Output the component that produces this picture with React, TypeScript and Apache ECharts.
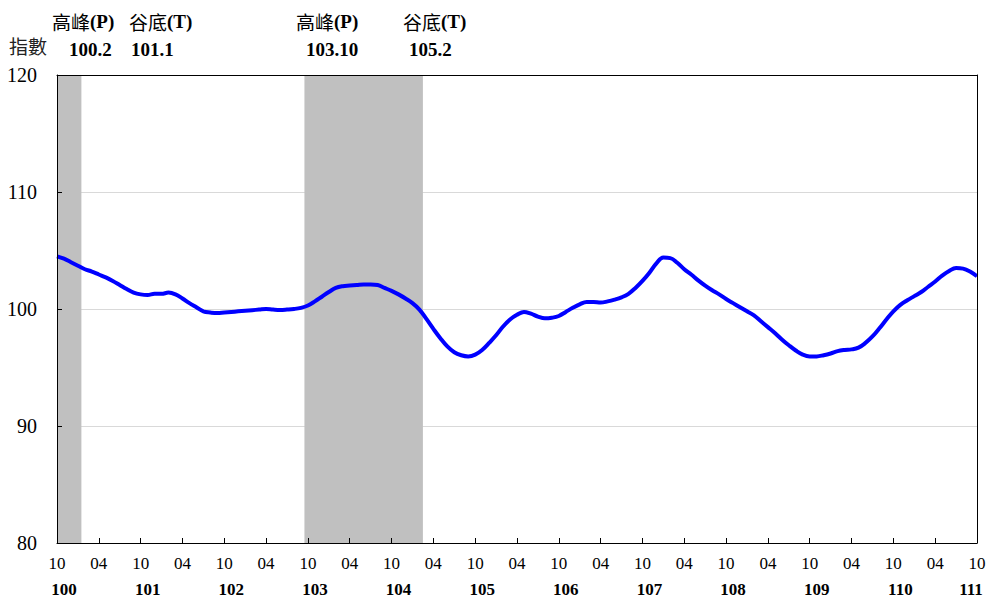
import React, { useEffect, useRef } from "react";
import * as echarts from "echarts";

// Months from 100/10 to 111/10 (ROC calendar)
const startYear = 100;
const startMonth = 10;
const monthCount = 133;

// Composite index values, one per month
const indexValues = [
  104.5, 104.3, 104.0, 103.7, 103.4, 103.2, 102.95, 102.7, 102.4, 102.05,
  101.7, 101.4, 101.25, 101.2, 101.3, 101.3, 101.4, 101.25, 100.9, 100.5,
  100.15, 99.8, 99.7, 99.65, 99.7, 99.75, 99.8, 99.85, 99.9, 99.95,
  100.0, 99.95, 99.92, 99.95, 100.0, 100.1, 100.3, 100.65, 101.05, 101.45,
  101.8, 101.95, 102.0, 102.05, 102.1, 102.1, 102.05, 101.8, 101.55, 101.25,
  100.9, 100.5, 99.95, 99.15, 98.3, 97.5, 96.8, 96.3, 96.05, 95.95,
  96.1, 96.5, 97.1, 97.75, 98.5, 99.1, 99.5, 99.75, 99.6, 99.35,
  99.2, 99.25, 99.4, 99.75, 100.1, 100.4, 100.6, 100.6, 100.55, 100.65,
  100.8, 101.0, 101.3, 101.8, 102.4, 103.1, 103.9, 104.4, 104.35, 103.95,
  103.4, 102.95, 102.45, 102.0, 101.6, 101.25, 100.85, 100.5, 100.15, 99.8,
  99.45, 98.95, 98.45, 97.95, 97.4, 96.9, 96.45, 96.1, 95.95, 95.95,
  96.05, 96.2, 96.4, 96.5, 96.55, 96.7, 97.1, 97.65, 98.35, 99.1,
  99.8, 100.35, 100.75, 101.1, 101.45, 101.9, 102.35, 102.85, 103.25, 103.5,
  103.45, 103.2, 102.8,
];

// Shaded contraction periods (peak -> trough), clipped to the chart range
const shadedPeriods = [
  ["100/10", "101/01"],
  ["103/10", "105/02"],
];

// Peak / trough annotations at the top
const turnLabels = ["高峰(P)", "谷底(T)", "高峰(P)", "谷底(T)"];
const turnDates = ["100.2", "101.1", "103.10", "105.2"];

const yMin = 80;
const yMax = 120;
const yStep = 10;

const categories: string[] = [];
for (let i = 0; i < monthCount; i++) {
  const m0 = startMonth - 1 + i;
  const y = startYear + Math.floor(m0 / 12);
  const m = (m0 % 12) + 1;
  categories.push(`${y}/${String(m).padStart(2, "0")}`);
}

const SERIF = "'Liberation Serif', 'Times New Roman', serif";
const CJK = "'Noto Sans CJK TC', 'Noto Sans CJK SC', sans-serif";

export default function App() {
  const ref = useRef<HTMLDivElement>(null);

  useEffect(() => {
    if (!ref.current) return;
    const chart = echarts.init(ref.current, undefined, { renderer: "svg" });

    const shadeData = shadedPeriods.map(([a, b]) => [
      categories.indexOf(a),
      categories.indexOf(b),
    ]);

    const turnX = [52, 129, 296, 403];
    const dateX = [69, 131, 306, 409];

    const graphics: any[] = [];
    turnLabels.forEach((t, i) => {
      const cjk = t.slice(0, 2);
      const rest = t.slice(2);
      graphics.push({
        type: "text",
        left: turnX[i],
        top: 12,
        style: {
          text: `{c|${cjk}}{e|${rest}}`,
          rich: {
            c: { fontFamily: CJK, fontSize: 19, fill: "#000" },
            e: { fontFamily: SERIF, fontSize: 19, fontWeight: "bold", fill: "#000" },
          },
        },
      });
    });
    turnDates.forEach((t, i) => {
      graphics.push({
        type: "text",
        left: dateX[i],
        top: 40,
        style: { text: t, fontFamily: SERIF, fontSize: 19, fontWeight: "bold", fill: "#000" },
      });
    });
    graphics.push({
      type: "text",
      left: 9,
      top: 36,
      style: { text: "指數", fontFamily: CJK, fontSize: 19, fill: "#222" },
    });

    const lastIdx = categories.length - 1;

    chart.setOption({
      animation: false,
      grid: { left: 57, right: 27, top: 75, bottom: 67, containLabel: false, outerBoundsMode: "none" },
      graphic: graphics,
      xAxis: [
        {
          type: "category",
          data: categories,
          boundaryGap: false,
          position: "bottom",
          z: 5,
          axisLine: { show: true, lineStyle: { color: "#000", width: 1 } },
          axisTick: { show: true, inside: true, length: 5, interval: 5, lineStyle: { color: "#000" } },
          axisLabel: {
            interval: 5,
            margin: 12,
            fontFamily: SERIF,
            fontSize: 17,
            color: "#000",
            formatter: (v: string) => v.split("/")[1],
          },
          splitLine: { show: false },
        },
        {
          type: "category",
          data: categories,
          boundaryGap: false,
          position: "bottom",
          offset: 28,
          axisLine: { show: false },
          axisTick: { show: false },
          axisLabel: {
            interval: (idx: number) => idx % 12 === 0,
            margin: 10,
            formatter: (v: string, idx: number) =>
              idx === lastIdx ? `{l|${v.split("/")[0]}}` : `{y|${v.split("/")[0]}}`,
            rich: {
              y: { fontFamily: SERIF, fontSize: 17, fontWeight: "bold", color: "#000", padding: [0, 0, 0, 14] },
              l: { fontFamily: SERIF, fontSize: 17, fontWeight: "bold", color: "#000", padding: [0, 12, 0, 0] },
            },
          },
          splitLine: { show: false },
        },
        {
          type: "category",
          data: categories,
          boundaryGap: false,
          position: "top",
          z: 5,
          axisLine: { show: true, lineStyle: { color: "#000", width: 1 } },
          axisTick: { show: false },
          axisLabel: { show: false },
          splitLine: { show: false },
        },
      ],
      yAxis: [
        {
          type: "value",
          min: yMin,
          max: yMax,
          interval: yStep,
          position: "left",
          z: 0,
          axisLine: { show: false },
          axisTick: { show: false },
          axisLabel: { show: false },
          splitLine: { show: true, lineStyle: { color: "#d9d9d9", width: 1 } },
        },
        {
          type: "value",
          min: yMin,
          max: yMax,
          interval: yStep,
          position: "left",
          z: 5,
          axisLine: { show: true, lineStyle: { color: "#000", width: 1 } },
          axisTick: { show: true, inside: true, length: 5, lineStyle: { color: "#000" } },
          axisLabel: { margin: 20, fontFamily: SERIF, fontSize: 20, color: "#000" },
          splitLine: { show: false },
        },
        {
          type: "value",
          min: yMin,
          max: yMax,
          interval: yStep,
          position: "right",
          z: 5,
          axisLine: { show: true, lineStyle: { color: "#000", width: 1 } },
          axisTick: { show: false },
          axisLabel: { show: false },
          splitLine: { show: false },
        },
      ],
      series: [
        {
          type: "custom",
          xAxisIndex: 0,
          yAxisIndex: 0,
          data: shadeData,
          encode: { x: [0, 1] },
          silent: true,
          z: 1,
          renderItem: (params: any, api: any) => {
            const s = api.value(0);
            const e = api.value(1);
            const bw = api.size([1, 0])[0];
            const pTop = api.coord([s, yMax]);
            const pEnd = api.coord([e, yMin]);
            const x0 = pTop[0] - bw / 2;
            const x1 = pEnd[0] + bw / 2;
            const cs = params.coordSys;
            const rect = echarts.graphic.clipRectByRect(
              { x: x0, y: pTop[1], width: x1 - x0, height: pEnd[1] - pTop[1] },
              { x: cs.x, y: cs.y, width: cs.width, height: cs.height }
            );
            if (!rect) return null;
            return { type: "rect", shape: rect, style: { fill: "#c0c0c0" } };
          },
        },
        {
          type: "line",
          xAxisIndex: 0,
          yAxisIndex: 0,
          data: indexValues,
          smooth: 0.4,
          showSymbol: false,
          symbol: "none",
          lineStyle: { color: "#0000ff", width: 4 },
          z: 3,
        },
      ],
    });

    return () => chart.dispose();
  }, []);

  return (
    <div
      ref={ref}
      style={{ position: "fixed", left: 0, top: 0, width: 1004, height: 610, background: "#fff" }}
    />
  );
}
